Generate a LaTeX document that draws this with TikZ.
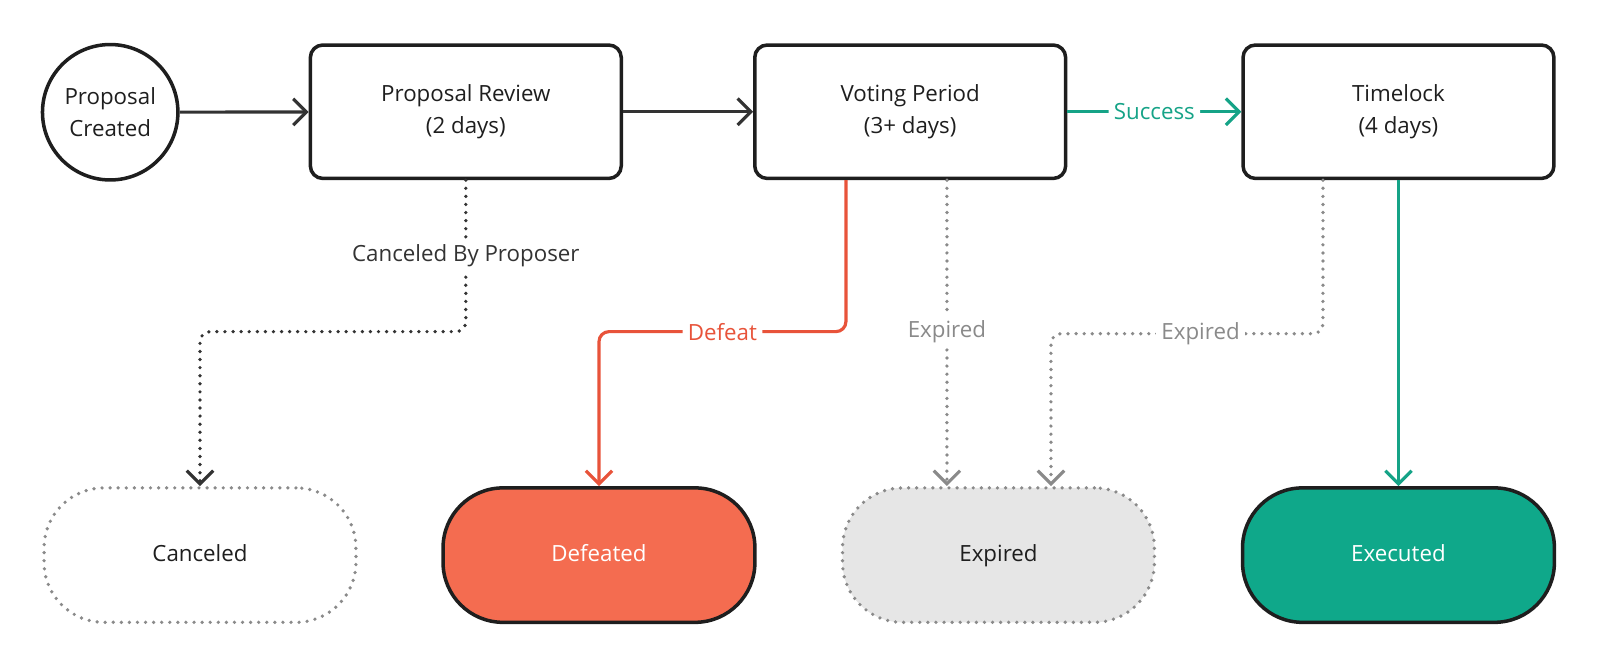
\documentclass[tikz,border=0pt]{standalone}
\usepackage{fontspec}
\setmainfont{Open Sans}
\definecolor{InkDark}{HTML}{1e1e1e}
\definecolor{LineDark}{HTML}{333333}
\definecolor{DotGrey}{HTML}{8a8a8a}
\definecolor{FailRed}{HTML}{e8533a}
\definecolor{FailFill}{HTML}{f46c50}
\definecolor{PassGreen}{HTML}{15a387}
\definecolor{PassFill}{HTML}{0fa88a}
\definecolor{PaleGrey}{HTML}{e6e6e6}
\usetikzlibrary{arrows.meta,positioning}
\tikzset{
  txt/.style={font=\fontsize{12.7}{18}\selectfont, align=center},
  stagebox/.style={txt, draw=InkDark, line width=2pt, rounded corners=0.25cm,
                   minimum width=6.22cm, minimum height=2.67cm, text=InkDark},
  startnode/.style={txt, draw=InkDark, line width=2pt, circle,
                    minimum size=2.71cm, inner sep=0pt, text=InkDark},
  endstate/.style={font=\fontsize{12.7}{18}\selectfont, text height=1.8ex, text depth=0.5ex,
                   line width=2pt, rounded corners=1.2cm,
                   minimum width=6.24cm, minimum height=2.69cm},
  dotline/.style={line width=2.1pt, line cap=round, dash pattern=on 0pt off 4.6pt},
  flow/.style={line width=1.8pt, rounded corners=0.2cm,
               -{Straight Barb[length=7.5pt,width=15pt,line width=1.8pt]}},
  lbl/.style={txt, fill=white, inner sep=3pt}
}
\begin{document}
\begin{tikzpicture}[x=0.02041cm, y=-0.02041cm]
  \useasboundingbox (0,0) rectangle (1568,653.6);

  % top row
  \node[startnode] (created) at (108,110) {Proposal\\Created};
  \node[stagebox] (review) at (456.5,109.5) {Proposal Review\\(2 days)};
  \node[stagebox] (voting) at (892,109.5) {Voting Period\\(3+ days)};
  \node[stagebox] (timelock) at (1370.5,109.5) {Timelock\\(4 days)};

  % end states
  \node[endstate, draw=DotGrey, dotline, fill=white, text=InkDark] (canceled) at (196,544) {Canceled};
  \node[endstate, draw=InkDark, fill=FailFill, text=white] (defeated) at (587,544) {Defeated};
  \node[endstate, draw=DotGrey, dotline, fill=PaleGrey, text=InkDark] (expired) at (978.5,544) {Expired};
  \node[endstate, draw=InkDark, fill=PassFill, text=white] (executed) at (1370.5,544) {Executed};

  % connectors
  \draw[flow, LineDark] (created) -- (review);
  \draw[flow, LineDark] (review) -- (voting);
  \draw[flow, PassGreen] (voting) -- node[lbl, text=PassGreen]{Success} (timelock);

  \draw[flow, dotline, LineDark] (review.south) -- node[lbl, text=LineDark, pos=0.5]{Canceled By Proposer}
    (review.south |- 0,325) -| (canceled.north);

  \draw[flow, FailRed] (voting.south) ++(-63,0) coordinate (vdefeat) -- (vdefeat |- 0,325)
    -- node[lbl, text=FailRed]{Defeat} (defeated.north |- 0,325) -- (defeated.north);

  \draw[flow, dotline, DotGrey] (voting.south) ++(36,0) coordinate (vexpire)
    -- node[lbl, text=DotGrey, pos=0.495]{Expired} (vexpire |- expired.north);

  \draw[flow, dotline, DotGrey] (timelock.south) ++(-74,0) coordinate (texpire) -- (texpire |- 0,327)
    -- node[lbl, text=DotGrey, pos=0.45]{Expired} ([xshift=1.05cm]expired.north |- 0,327) -- ([xshift=1.05cm]expired.north);

  \draw[flow, PassGreen] (timelock) -- (executed);
\end{tikzpicture}
\end{document}
